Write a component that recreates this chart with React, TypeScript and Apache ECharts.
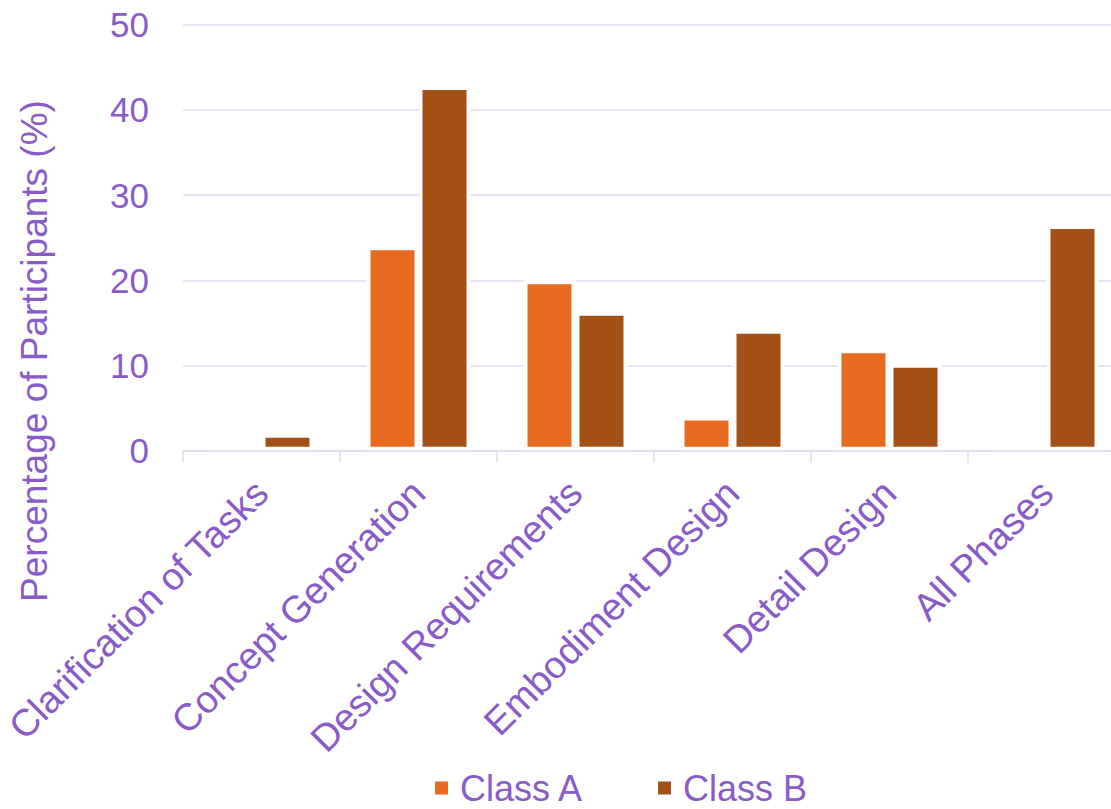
import React, { useEffect, useRef } from "react";
import * as echarts from "echarts";

const categories = [
  "Clarification of Tasks",
  "Concept Generation",
  "Design Requirements",
  "Embodiment Design",
  "Detail Design",
  "All Phases",
];
const classA = [0, 24.0, 20.0, 4.0, 11.9, 0];
const classB = [2.0, 42.8, 16.3, 14.2, 10.2, 26.5];
const seriesNames = ["Class A", "Class B"];
const yAxisTitle = "Percentage of Participants (%)";

const PURPLE = "#8A5BC8";
const LAVENDER = "#E3DAF2";
const FONT = "'Liberation Sans', Arial, sans-serif";

export default function App() {
  const ref = useRef<HTMLDivElement>(null);
  useEffect(() => {
    document.body.style.margin = "0";
    if (!ref.current) return;
    const chart = echarts.init(ref.current, null, { renderer: "svg" });
    chart.setOption({
      animation: false,
      backgroundColor: "#ffffff",
      textStyle: { fontFamily: FONT },
      grid: {
        left: 183,
        top: 24.7,
        width: 942,
        height: 426,
        containLabel: false,
        outerBoundsMode: "none",
      },
      legend: {
        data: seriesNames,
        left: 433,
        top: 770,
        padding: 0,
        itemWidth: 15,
        itemHeight: 15,
        itemGap: 72,
        icon: "rect",
        textStyle: {
          color: PURPLE,
          fontSize: 36,
          lineHeight: 32,
          fontFamily: FONT,
          padding: [0, 0, 0, 6],
        },
      },
      xAxis: {
        type: "category",
        data: categories,
        z: 5,
        axisLine: { show: true, lineStyle: { color: LAVENDER, width: 1.5 } },
        axisTick: {
          show: true,
          length: 12,
          lineStyle: { color: LAVENDER, width: 1.5 },
        },
        axisLabel: {
          rotate: 45,
          interval: 0,
          margin: 36,
          color: PURPLE,
          fontSize: 38,
          fontFamily: FONT,
        },
        splitLine: { show: false },
      },
      yAxis: {
        type: "value",
        min: 0,
        max: 50,
        interval: 10,
        axisLine: { show: false },
        axisTick: { show: false },
        axisLabel: {
          margin: 34,
          color: PURPLE,
          fontSize: 35,
          fontFamily: FONT,
        },
        splitLine: { lineStyle: { color: LAVENDER, width: 1.5 } },
      },
      graphic: [
        {
          type: "text",
          x: 34,
          y: 351,
          rotation: Math.PI / 2,
          style: {
            text: yAxisTitle,
            fill: PURPLE,
            font: `37px ${FONT}`,
            textAlign: "center",
            textVerticalAlign: "middle",
          },
        },
      ],
      series: [
        {
          name: seriesNames[0],
          type: "bar",
          data: classA,
          barWidth: 52,
          barGap: "0%",
          itemStyle: { color: "#E96A21", borderColor: "#ffffff", borderWidth: 4 },
        },
        {
          name: seriesNames[1],
          type: "bar",
          data: classB,
          barWidth: 52,
          barGap: "0%",
          itemStyle: { color: "#A25016", borderColor: "#ffffff", borderWidth: 4 },
        },
      ],
    });
    return () => chart.dispose();
  }, []);
  return <div ref={ref} style={{ width: 1111, height: 809 }} />;
}
